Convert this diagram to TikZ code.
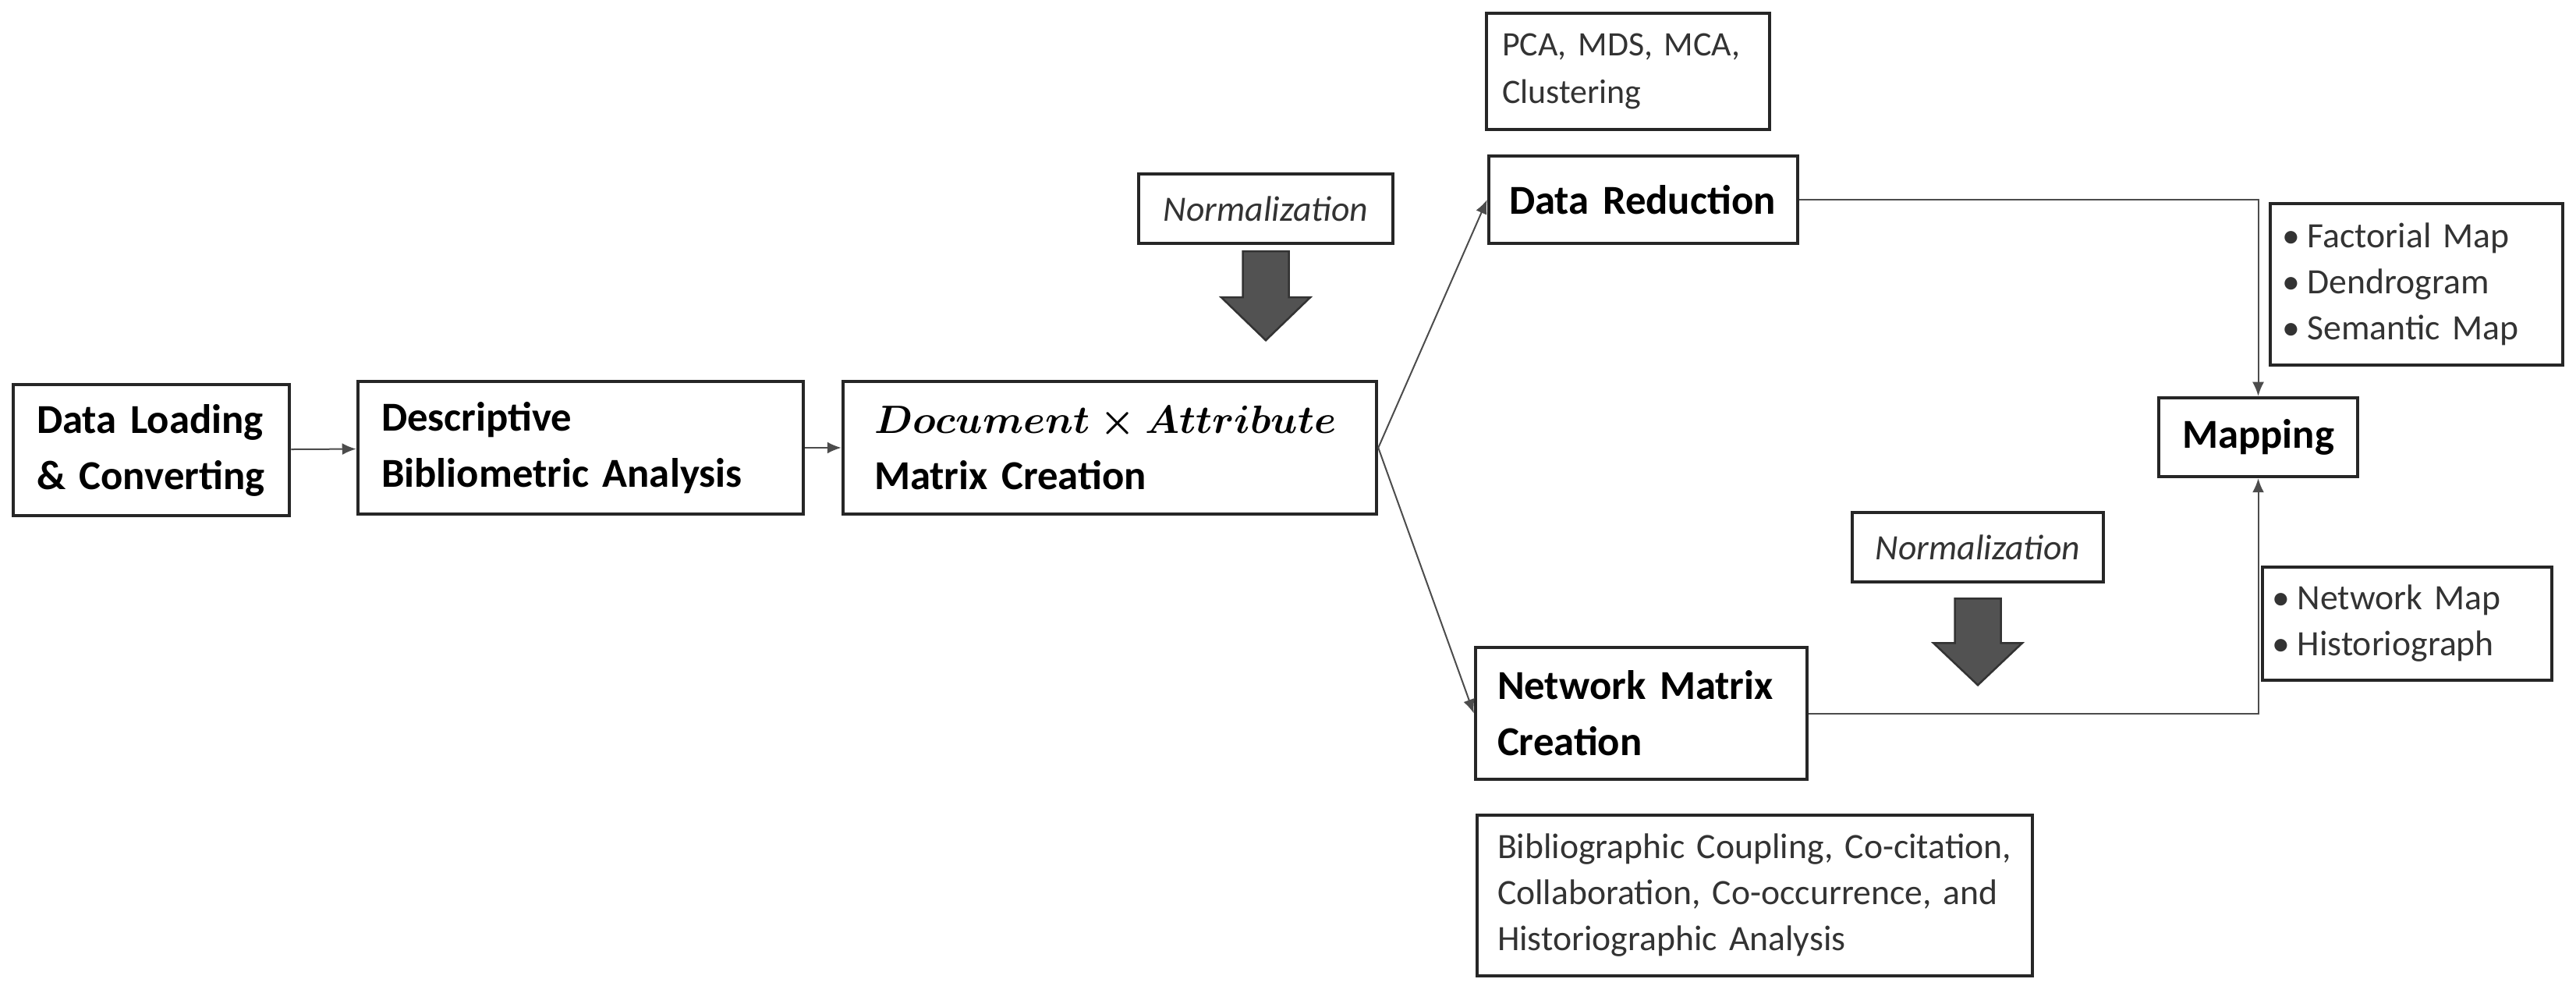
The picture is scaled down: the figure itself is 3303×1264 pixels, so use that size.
\documentclass[tikz,border=0pt]{standalone}
\usepackage{fontspec}
\setmainfont{Carlito}
\usetikzlibrary{arrows.meta,calc}
\begin{document}
\begin{tikzpicture}[x=0.1mm,y=-0.1mm,
  box/.style={draw=black!85, line width=0.45mm, inner xsep=3mm, inner ysep=0pt, align=left},
  mainbox/.style={box, font=\fontsize{15}{20.5}\selectfont\bfseries, text=black},
  notebox/.style={box, inner xsep=2.3mm, font=\fontsize{13}{16.8}\selectfont, text=black!80},
  normbox/.style={box, align=center, font=\fontsize{13}{16}\selectfont\itshape, text=black!80},
  conn/.style={draw=black!70, line width=0.2mm, -{Latex[length=1.8mm,width=1.5mm]}},
  blockarrow/.style={fill=black!68, draw=black!80, line width=0.25mm}
]
\fill[white] (0,0) rectangle (3303,1264);
\useasboundingbox (0,0) rectangle (3303,1264);

\node[mainbox, text width=29.4mm, minimum height=16.8mm] (load) at (194,577) {Data Loading\\\& Converting};
\node[mainbox, text width=51.1mm, minimum height=17mm] (desc) at (744.5,574) {Descriptive\\Bibliometric Analysis};
\node[mainbox, inner xsep=4mm, text width=60.4mm, minimum height=17mm] (doc) at (1423,574) {{\boldmath$Document\times Attribute$}\\Matrix Creation};
\node[normbox, minimum width=32.6mm, minimum height=8.9mm] (norm1) at (1623,267.5) {Normalization};
\node[notebox, inner xsep=2mm, text width=32.3mm, minimum height=14.9mm, font=\fontsize{12.5}{17.5}\selectfont] (pca) at (2087.5,91.5) {\mbox{PCA, MDS, MCA,}\\Clustering};
\node[mainbox, inner xsep=2.6mm, text width=34.4mm, minimum height=11.2mm] (dred) at (2107,256) {Data Reduction};
\node[notebox, inner xsep=1.5mm, text width=34.5mm, minimum height=20.7mm] (fact) at (3098.5,364.5) {\textbullet\hspace{1mm}Factorial Map\\\textbullet\hspace{1mm}Dendrogram\\\textbullet\hspace{1mm}Semantic Map};
\node[mainbox, align=center, minimum width=24.7mm, minimum height=10.1mm] (map) at (2895.5,560.5) {Mapping};
\node[normbox, minimum width=31.6mm, minimum height=8.9mm] (norm2) at (2536,701.5) {Normalization};
\node[notebox, inner xsep=1.2mm, text width=34.7mm, minimum height=14.5mm] (netmap) at (3086.5,799.5) {\textbullet\hspace{1mm}Network Map\\\textbullet\hspace{1mm}Historiograph};
\node[mainbox, inner xsep=2.8mm, text width=36.9mm, minimum height=16.9mm] (netm) at (2104.5,914.5) {Network Matrix\\Creation};
\node[notebox, inner xsep=2.6mm, text width=66mm, minimum height=20.6mm] (bib) at (2250,1148) {Bibliographic Coupling, Co-citation,\\Collaboration, Co-occurrence, and\\Historiographic Analysis};

\draw[conn] (load) -- (desc);
\draw[conn] (desc) -- (doc);
\draw[conn] (doc.east) -- (dred.west);
\draw[conn] (doc.east) -- (netm.west);
\draw[conn] (dred.east) -| (map.north);
\draw[conn] (netm.east) -| (map.south);

\begin{scope}[shift={($(norm1.south)+(0,8)$)}]
  \draw[blockarrow] (-29.5,0) -- (29.5,0) -- (29.5,59) -- (57,59) -- (0,114) -- (-57,59) -- (-29.5,59) -- cycle;
\end{scope}
\begin{scope}[shift={($(norm2.south)+(0,19)$)}]
  \draw[blockarrow] (-29.5,0) -- (29.5,0) -- (29.5,57) -- (57,57) -- (0,111) -- (-57,57) -- (-29.5,57) -- cycle;
\end{scope}
\end{tikzpicture}
\end{document}
